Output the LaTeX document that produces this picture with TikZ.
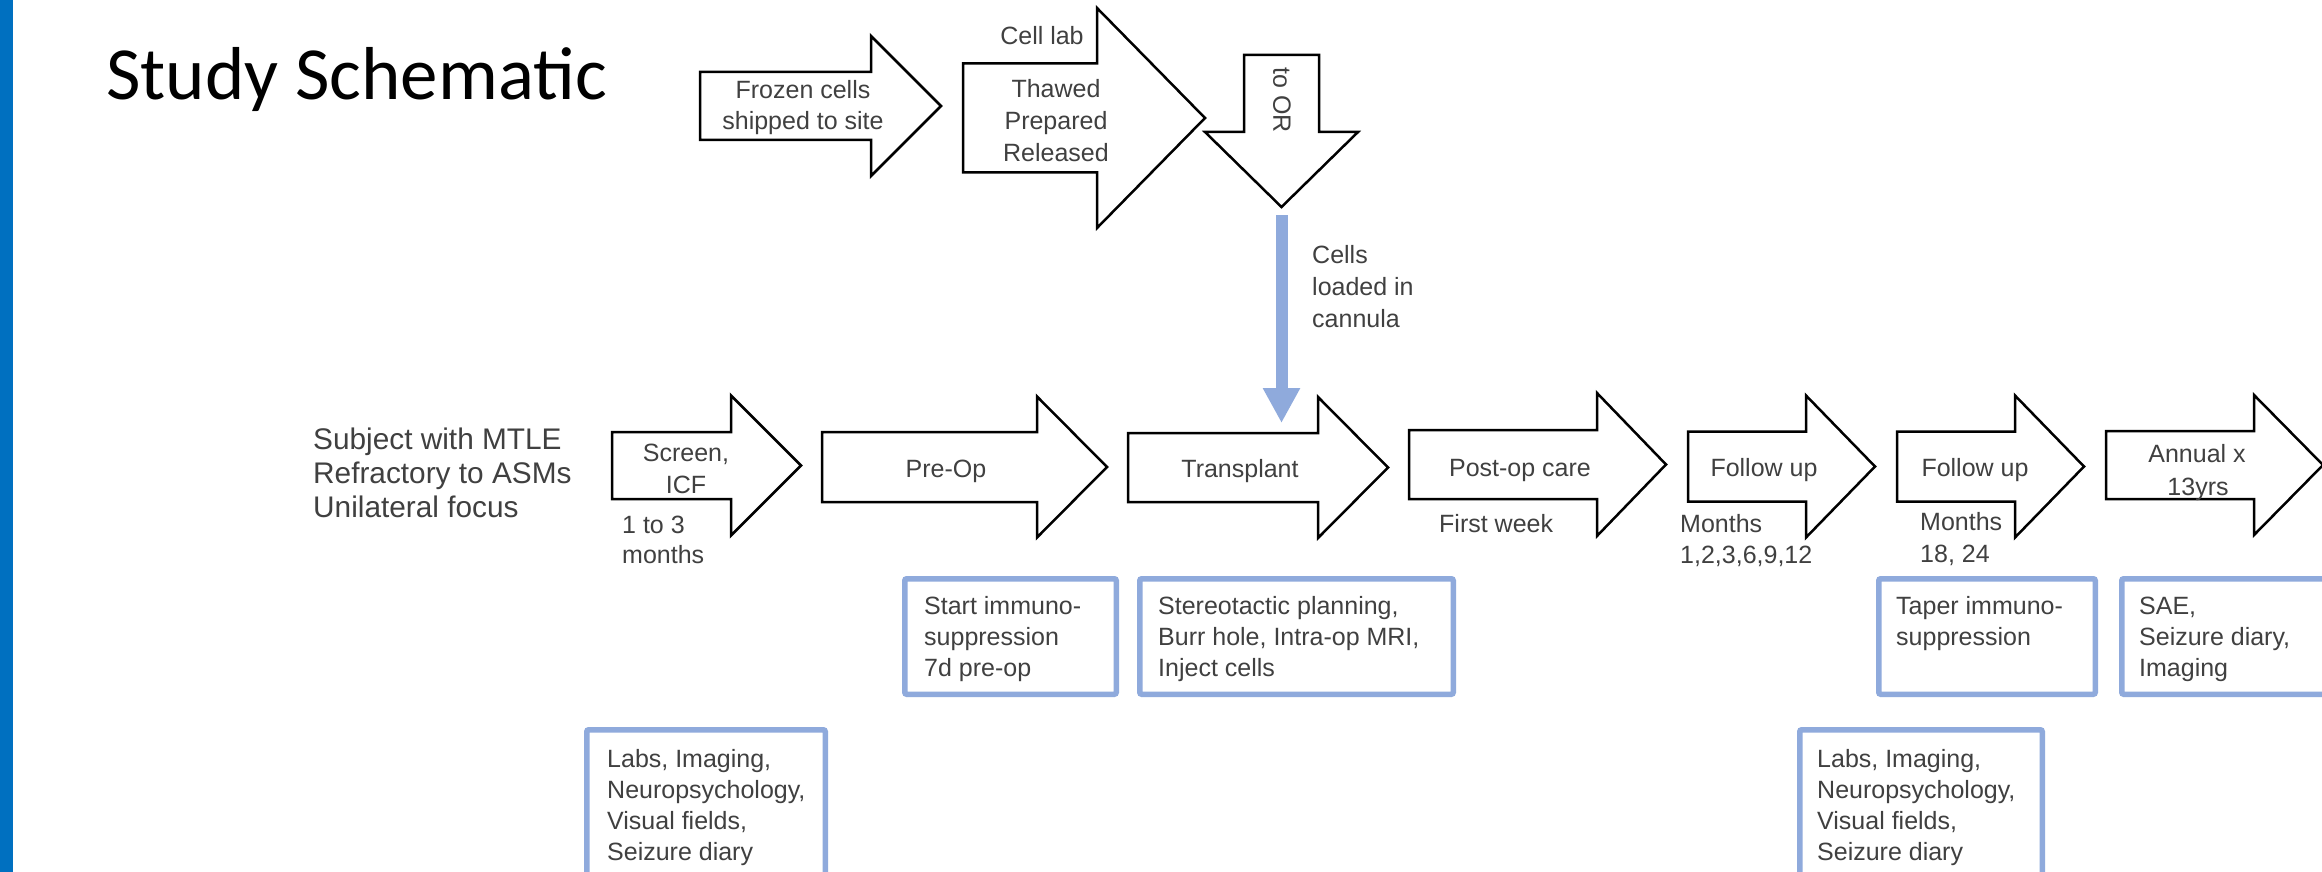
\documentclass[tikz,border=0pt]{standalone}
\usepackage{fontspec}
\setmainfont{Liberation Sans}
\newfontfamily\titlefont{Carlito}
\usetikzlibrary{arrows.meta}
\definecolor{barblue}{RGB}{0,112,192}
\definecolor{boxblue}{RGB}{143,170,220}
\definecolor{txtgray}{RGB}{64,64,64}
\tikzset{
  blockarrow/.style={draw=black, line width=2.5pt, fill=white, line join=miter},
  bluebox/.style={draw=boxblue, line width=5.5pt, rounded corners=2pt},
  lbl/.style={font=\fontsize{25}{31}\selectfont, text=txtgray, inner sep=0pt},
  lblc/.style={lbl, anchor=base},
  lbll/.style={lbl, anchor=base west},
  subj/.style={font=\fontsize{29.8}{34}\selectfont, text=txtgray, inner sep=0pt, anchor=base west},
  cannula/.style={draw=boxblue, line width=12pt, -{Triangle[width=35pt,length=35pt]}},
}
% name, x left, x head base, x tip, y centre, body half height, head half height
\newcommand{\blockarrowR}[7]{%
  \draw[blockarrow] (#2,#5-#6) -- (#3,#5-#6) -- (#3,#5-#7) -- (#4,#5) -- (#3,#5+#7) -- (#3,#5+#6) -- (#2,#5+#6) -- cycle;
  \coordinate (#1-tip) at (#4,#5);
}
\begin{document}
\begin{tikzpicture}[x=1pt,y=-1pt]
\useasboundingbox (0,0) rectangle (2322,872);
\fill[white] (0,0) rectangle (2322,872);
\fill[barblue] (0,0) rectangle (13,872);

\node[font=\titlefont\fontsize{75}{80}\selectfont, anchor=base west, inner sep=0pt] (title) at (106,100) {Study Schematic};

% top row
\blockarrowR{frozen}{700}{871}{941}{106}{34}{70}
\blockarrowR{lab}{963}{1097}{1205}{118}{54.5}{110}
\draw[blockarrow] (1244,55) -- (1319,55) -- (1319,132) -- (1358,132) -- (1281.5,207) -- (1205,132) -- (1244,132) -- cycle;
\coordinate (toOR-tip) at (1281.5,207);

\node[lblc] (frozen1) at (803,99) {Frozen cells};
\node[lblc] (frozen2) at (803,130) {shipped to site};
\node[lblc] (celllab) at (1042,45) {Cell lab};
\node[lblc] (thawed) at (1056,98) {Thawed};
\node[lblc] (prepared) at (1056,130) {Prepared};
\node[lblc] (released) at (1056,162) {Released};
\node[lbl, rotate=-90] (toOR) at (1282,100) {to OR};

% cannula connector
\coordinate (cellsStart) at (1281.5,215);
\coordinate (cellsEnd) at (1281.5,423);
\draw[cannula] (cellsStart) -- (cellsEnd);
\node[lbll] (cells1) at (1312,263) {Cells};
\node[lbll] (cells2) at (1312,295) {loaded in};
\node[lbll] (cells3) at (1312,327) {cannula};

% subject
\node[subj] (subj1) at (313,449) {Subject with MTLE};
\node[subj] (subj2) at (313,483) {Refractory to ASMs};
\node[subj] (subj3) at (313,517) {Unilateral focus};

% bottom row arrows
\blockarrowR{screen}{612}{731}{801}{465.5}{33.5}{70}
\blockarrowR{preop}{822}{1037}{1107}{467}{35}{70.5}
\blockarrowR{transplant}{1128}{1318}{1388}{467.5}{34.5}{70.5}
\blockarrowR{postop}{1409}{1597}{1666}{464.5}{34.5}{71.5}
\blockarrowR{follow1}{1688}{1806}{1875}{466.5}{35}{71}
\blockarrowR{follow2}{1897}{2015}{2084}{466.5}{35}{71}
\blockarrowR{annual}{2106}{2254}{2323}{465}{34}{70}

\node[lblc] (screen1) at (686,461) {Screen,};
\node[lblc] (screen2) at (686,493) {ICF};
\node[lbll] (dur1) at (622,533) {1 to 3};
\node[lbll] (dur2) at (622,563) {months};
\node[lblc] (preopT) at (946,477) {Pre-Op};
\node[lblc] (transplantT) at (1240,477) {Transplant};
\node[lblc] (postopT) at (1520,476) {Post-op care};
\node[lbll] (firstweek) at (1439,532) {First week};
\node[lblc] (follow1T) at (1764,476) {Follow up};
\node[lbll] (months1a) at (1680,532) {Months};
\node[lbll] (months1b) at (1680,563) {1,2,3,6,9,12};
\node[lblc] (follow2T) at (1975,476) {Follow up};
\node[lbll] (months2a) at (1920,530) {Months};
\node[lbll] (months2b) at (1920,562) {18, 24};
\node[lblc] (annual1) at (2197,462) {Annual x};
\node[lblc] (annual2) at (2198,495) {13yrs};

% blue boxes
\draw[bluebox] (904.75,578.75) rectangle (1116.25,694.25);
\draw[bluebox] (1139.75,578.75) rectangle (1453.25,694.25);
\draw[bluebox] (1878.75,578.75) rectangle (2095.25,694.25);
\draw[bluebox] (2121.75,578.75) rectangle (2345,694.25);
\draw[bluebox] (586.75,729.75) rectangle (825.25,900);
\draw[bluebox] (1799.75,729.75) rectangle (2042.25,900);

\node[lbll] (imm1) at (924,614) {Start immuno-};
\node[lbll] (imm2) at (924,645) {suppression};
\node[lbll] (imm3) at (924,676) {7d pre-op};
\node[lbll] (ster1) at (1158,614) {Stereotactic planning,};
\node[lbll] (ster2) at (1158,645) {Burr hole, Intra-op MRI,};
\node[lbll] (ster3) at (1158,676) {Inject cells};
\node[lbll] (taper1) at (1896,614) {Taper immuno-};
\node[lbll] (taper2) at (1896,645) {suppression};
\node[lbll] (sae1) at (2139,614) {SAE,};
\node[lbll] (sae2) at (2139,645) {Seizure diary,};
\node[lbll] (sae3) at (2139,676) {Imaging};
\node[lbll] (labsA1) at (607,767) {Labs, Imaging,};
\node[lbll] (labsA2) at (607,798) {Neuropsychology,};
\node[lbll] (labsA3) at (607,829) {Visual fields,};
\node[lbll] (labsA4) at (607,860) {Seizure diary};
\node[lbll] (labsB1) at (1817,767) {Labs, Imaging,};
\node[lbll] (labsB2) at (1817,798) {Neuropsychology,};
\node[lbll] (labsB3) at (1817,829) {Visual fields,};
\node[lbll] (labsB4) at (1817,860) {Seizure diary};
\end{tikzpicture}
\end{document}
